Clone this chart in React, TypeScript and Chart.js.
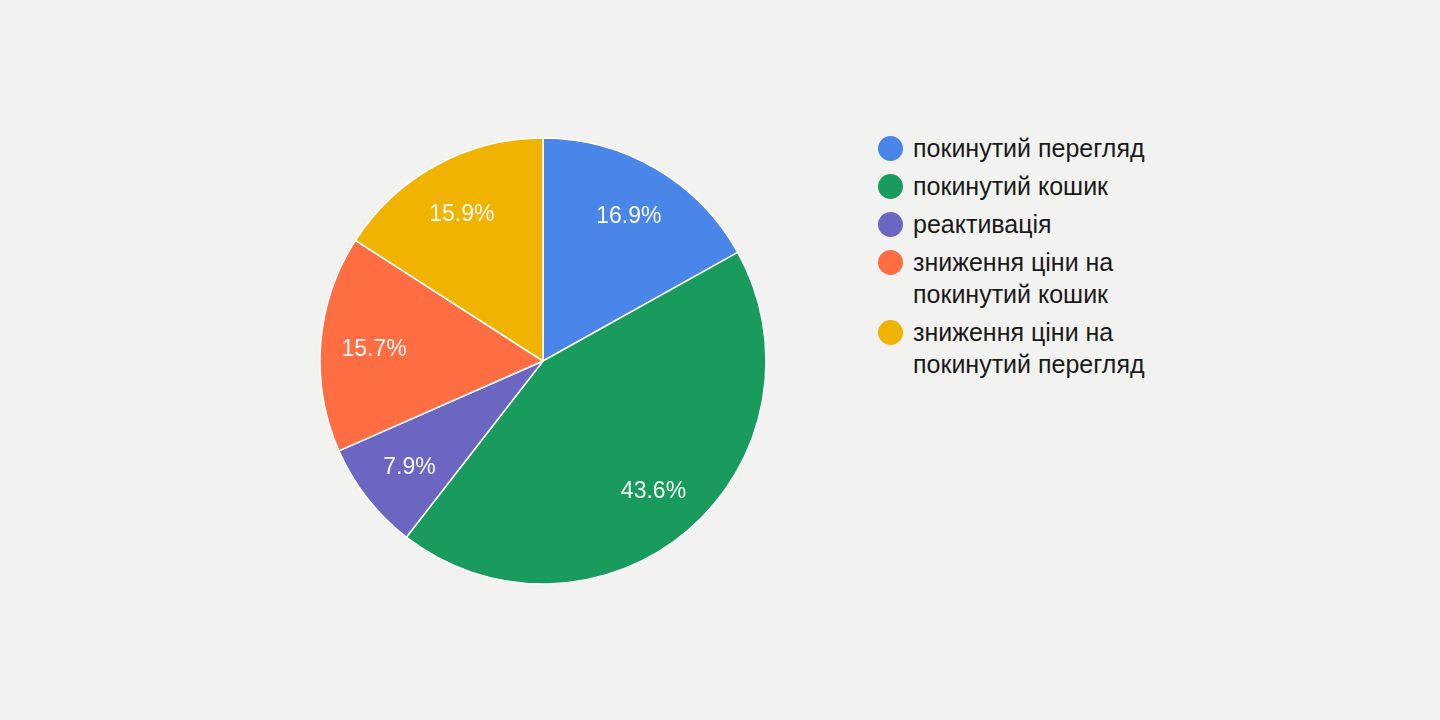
import React, { useEffect, useRef } from "react";
import { Chart, registerables } from "chart.js";

Chart.register(...registerables);

const categories: string[][] = [
  ["покинутий перегляд"],
  ["покинутий кошик"],
  ["реактивація"],
  ["зниження ціни на", "покинутий кошик"],
  ["зниження ціни на", "покинутий перегляд"],
];
const shares: number[] = [16.9, 43.6, 7.9, 15.7, 15.9];
const colors: string[] = ["#4a86e8", "#189b5c", "#6a66c1", "#ff6d42", "#f0b300"];

const FONT = '"Liberation Sans", Arial, Helvetica, sans-serif';

const labelPlugin = {
  id: "sliceLabels",
  afterDatasetsDraw(chart: any) {
    const ctx = chart.ctx;
    const meta = chart.getDatasetMeta(0);
    const data = chart.data.datasets[0].data as number[];
    ctx.save();
    ctx.fillStyle = "#f8f8f8";
    ctx.font = `23px ${FONT}`;
    ctx.textAlign = "center";
    ctx.textBaseline = "middle";
    meta.data.forEach((arc: any, i: number) => {
      const p = arc.getProps(["x", "y", "startAngle", "endAngle", "outerRadius"], true);
      const mid = (p.startAngle + p.endAngle) / 2;
      const r = p.outerRadius * 0.76;
      ctx.fillText(`${data[i].toFixed(1)}%`, p.x + Math.cos(mid) * r, p.y + Math.sin(mid) * r + 2);
    });
    ctx.restore();
  },
};

export default function App() {
  const ref = useRef<HTMLCanvasElement | null>(null);
  useEffect(() => {
    if (!ref.current) return;
    const chart = new Chart(ref.current, {
      type: "pie",
      data: {
        labels: categories.map((c) => c.join(" ")),
        datasets: [
          {
            data: shares,
            backgroundColor: colors,
            borderColor: "#ffffff",
            borderWidth: 1.5,
          },
        ],
      },
      options: {
        animation: false,
        responsive: false,
        maintainAspectRatio: false,
        radius: 223,
        plugins: { legend: { display: false }, tooltip: { enabled: false } },
      },
      plugins: [labelPlugin],
    });
    return () => chart.destroy();
  }, []);

  return (
    <div
      style={{
        position: "fixed",
        left: 0,
        top: 0,
        width: 1440,
        height: 720,
        background: "#f2f2f0",
        fontFamily: FONT,
      }}
    >
      <canvas
        ref={ref}
        width={460}
        height={460}
        style={{ position: "absolute", left: 313, top: 131, width: 460, height: 460 }}
      />
      <div style={{ position: "absolute", left: 878, top: 132 }}>
        {categories.map((lines, i) => (
          <div key={i} style={{ display: "flex", alignItems: "flex-start", marginBottom: 6 }}>
            <div
              style={{
                width: 25,
                height: 25,
                borderRadius: "50%",
                background: colors[i],
                marginTop: 3.5,
                marginRight: 10,
                flexShrink: 0,
              }}
            />
            <div style={{ fontSize: 25, lineHeight: "32px", color: "#1a1a1a" }}>
              {lines.map((l, j) => (
                <div key={j}>{l}</div>
              ))}
            </div>
          </div>
        ))}
      </div>
    </div>
  );
}
